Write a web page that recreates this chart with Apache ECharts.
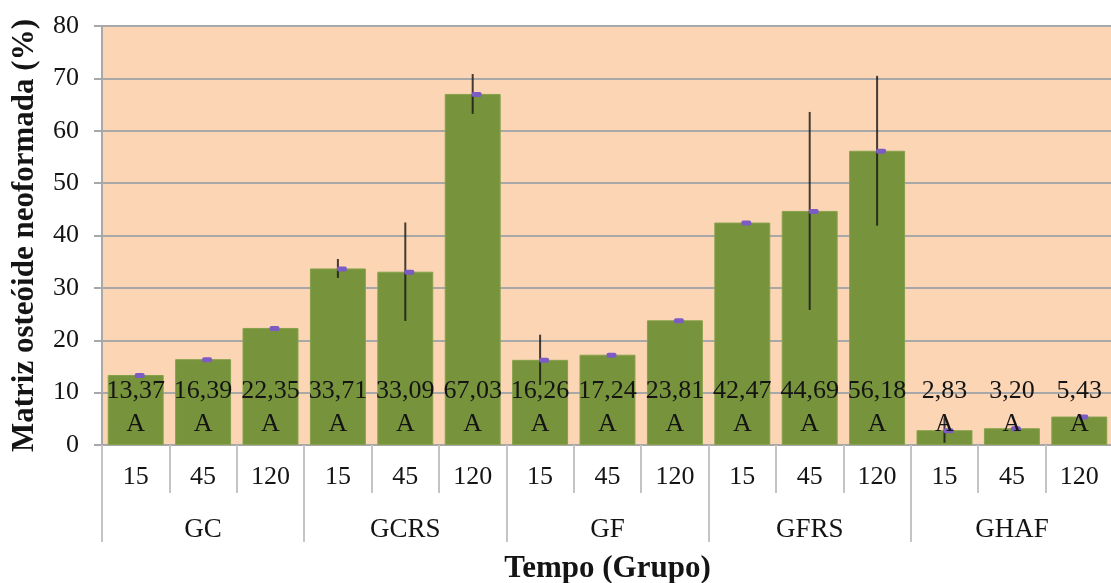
<!DOCTYPE html>
<html>
<head>
<meta charset="utf-8">
<script src="https://cdn.jsdelivr.net/npm/echarts@6/dist/echarts.min.js"></script>
<style>
  html, body { margin: 0; padding: 0; background: #ffffff; }
  #chart { width: 1111px; height: 583px; }
</style>
</head>
<body>
<div id="chart"></div>
<script>
// Bone matrix formation per time point (days) within each group
const times = ['15', '45', '120', '15', '45', '120', '15', '45', '120', '15', '45', '120', '15', '45', '120'];
const groups = ['GC', 'GCRS', 'GF', 'GFRS', 'GHAF'];
const means = [13.37, 16.39, 22.35, 33.71, 33.09, 67.03, 16.26, 17.24, 23.81, 42.47, 44.69, 56.18, 2.83, 3.20, 5.43];
const errors = [0, 0, 0, 1.8, 9.4, 3.8, 4.8, 0, 0, 0, 18.9, 14.3, 2.4, 0, 0];
const letters = ['A', 'A', 'A', 'A', 'A', 'A', 'A', 'A', 'A', 'A', 'A', 'A', 'A', 'A', 'A'];
const yTicks = [0, 10, 20, 30, 40, 50, 60, 70, 80];

const SERIF = '"Liberation Serif", "Times New Roman", serif';
const TEXT = '#141414';
const GRID_GRAY = '#a8a8a8';
const TICK_GRAY = '#c4c4c4';

const fmt = v => v.toFixed(2).replace('.', ',');

const chart = echarts.init(document.getElementById('chart'), null, { renderer: 'canvas' });

chart.setOption({
  animation: false,
  backgroundColor: '#ffffff',
  grid: {
    left: 102, right: -2, top: 26, bottom: 138,
    outerBoundsMode: 'none',
    containLabel: false,
    show: true, backgroundColor: '#fcd5b5', borderWidth: 0
  },
  xAxis: [
    {
      type: 'category',
      data: times,
      position: 'bottom',
      axisLine: { show: true, lineStyle: { color: GRID_GRAY, width: 2 } },
      axisTick: { show: true, interval: 0, length: 48, lineStyle: { color: TICK_GRAY, width: 2 } },
      axisLabel: { interval: 0, margin: 19, fontFamily: SERIF, fontSize: 26, color: TEXT }
    },
    {
      type: 'category',
      data: groups,
      position: 'bottom',
      axisLine: { show: false },
      axisTick: { show: true, interval: 0, length: 97, lineStyle: { color: TICK_GRAY, width: 2 } },
      axisLabel: { interval: 0, margin: 71, fontFamily: SERIF, fontSize: 27, color: TEXT },
      name: 'Tempo (Grupo)',
      nameLocation: 'middle',
      nameGap: 108,
      nameTextStyle: { fontFamily: SERIF, fontSize: 31, fontWeight: 'bold', color: TEXT }
    }
  ],
  yAxis: {
    type: 'value',
    min: yTicks[0],
    max: yTicks[yTicks.length - 1],
    interval: 10,
    axisLine: { show: true, lineStyle: { color: GRID_GRAY, width: 2 } },
    axisTick: { show: true, length: 8, lineStyle: { color: GRID_GRAY, width: 2 } },
    axisLabel: { margin: 23, fontFamily: SERIF, fontSize: 26, color: TEXT },
    splitLine: { show: true, lineStyle: { color: GRID_GRAY, width: 2 } },
    name: 'Matriz osteóide neoformada (%)',
    nameLocation: 'middle',
    nameGap: 62,
    nameTextStyle: { fontFamily: SERIF, fontSize: 31, fontWeight: 'bold', color: TEXT }
  },
  series: [
    {
      name: 'Média',
      type: 'bar',
      xAxisIndex: 0,
      data: means,
      barCategoryGap: '17%',
      itemStyle: { color: '#77933c', borderColor: '#86a24a', borderWidth: 1 },
      z: 2
    },
    {
      // error bars with a small marker at each mean
      type: 'custom',
      xAxisIndex: 0,
      data: means.map((m, i) => [i, m - errors[i], m + errors[i], m]),
      renderItem(params, api) {
        const i = api.value(0);
        const lo = api.coord([i, api.value(1)]);
        const hi = api.coord([i, api.value(2)]);
        const mid = api.coord([i, api.value(3)]);
        const children = [];
        if (errors[i] > 0) {
          children.push({
            type: 'line',
            shape: { x1: lo[0], y1: lo[1], x2: hi[0], y2: hi[1] },
            style: { stroke: 'rgba(20,20,20,0.8)', lineWidth: 2 }
          });
        }
        children.push({
          type: 'rect',
          shape: { x: mid[0] - 1, y: mid[1] - 2, width: 10, height: 5, r: 2 },
          style: { fill: '#7c5cc4' }
        });
        return { type: 'group', children };
      },
      z: 4
    },
    {
      // value and letter labels at fixed height above the baseline
      type: 'custom',
      xAxisIndex: 0,
      data: means.map((m, i) => [i, m]),
      renderItem(params, api) {
        const i = api.value(0);
        const base = api.coord([i, 0]);
        return {
          type: 'group',
          children: [
            {
              type: 'text',
              style: {
                text: fmt(api.value(1)), x: base[0], y: base[1] - 54,
                align: 'center', verticalAlign: 'middle',
                fontFamily: SERIF, fontSize: 26, fill: TEXT
              }
            },
            {
              type: 'text',
              style: {
                text: letters[i], x: base[0], y: base[1] - 21,
                align: 'center', verticalAlign: 'middle',
                fontFamily: SERIF, fontSize: 26, fill: TEXT
              }
            }
          ]
        };
      },
      z: 5
    }
  ]
});
</script>
</body>
</html>
